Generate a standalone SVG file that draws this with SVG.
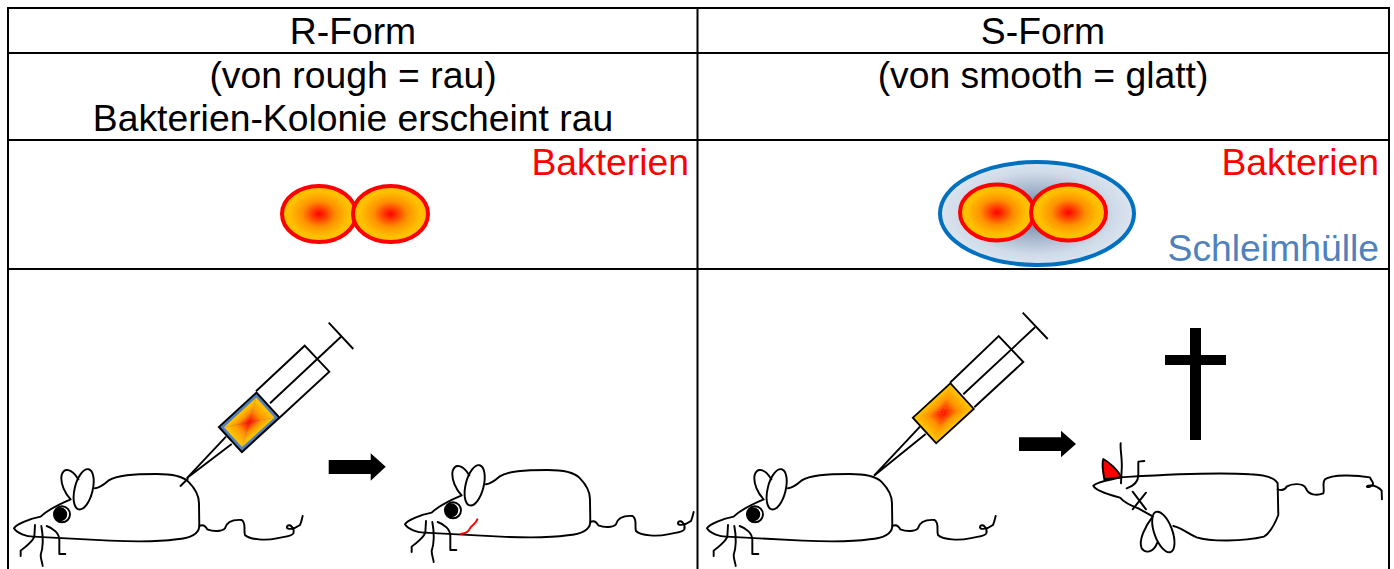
<svg xmlns="http://www.w3.org/2000/svg" width="1394" height="569" viewBox="0 0 1394 569">
<style>
text{font-family:"Liberation Sans",Arial,sans-serif;font-size:37.3px;fill:#000;text-anchor:middle}
.red{fill:#f00;text-anchor:end}
.blue{fill:#4f81bd;text-anchor:end}
.grid{stroke:#000;stroke-width:2;fill:none}
.m{fill:none;stroke:#000;stroke-width:5.800;stroke-linecap:round;stroke-linejoin:round}
.ln{fill:none;stroke:#000;stroke-width:1.9}
.bac{stroke:#f00;stroke-width:4;fill:url(#bg)}
.s0{stop-color:#f00}.s1{stop-color:#ff9000}.s2{stop-color:#ffc000}
</style>
<defs>
<radialGradient id="bg"><stop offset="0" class="s0"/><stop offset=".45" class="s1"/><stop offset=".8" class="s2"/></radialGradient>
<radialGradient id="slime"><stop offset="0" stop-color="#5f7797"/><stop offset=".5" stop-color="#a9b8cf"/><stop offset=".8" stop-color="#d0dbe9"/><stop offset="1" stop-color="#dbe4ef"/></radialGradient>
<linearGradient id="gT" x1="0" y1="1" x2="0" y2="0"><stop offset="0" class="s0"/><stop offset=".5" class="s1"/><stop offset=".9" class="s2"/></linearGradient>
<linearGradient id="gB" x1="0" y1="0" x2="0" y2="1"><stop offset="0" class="s0"/><stop offset=".5" class="s1"/><stop offset=".9" class="s2"/></linearGradient>
<linearGradient id="gL" x1="1" y1="0" x2="0" y2="0"><stop offset="0" class="s0"/><stop offset=".5" class="s1"/><stop offset=".9" class="s2"/></linearGradient>
<linearGradient id="gR" x1="0" y1="0" x2="1" y2="0"><stop offset="0" class="s0"/><stop offset=".5" class="s1"/><stop offset=".9" class="s2"/></linearGradient>
<g id="pair">
<ellipse class="bac" cx="-36" cy="0" rx="37" ry="28"/>
<ellipse class="bac" cx="35.500" cy="0" rx="37.500" ry="28"/>
</g>
<g id="mouse" class="m">
<path d="M100,350C80,350 50,340 42,325C50,312 90,296 122,290C140,272 165,258 212,238C195,220 180,190 185,165C192,142 215,145 235,178"/>
<ellipse cx="251" cy="208" rx="27" ry="62" transform="rotate(14 251 208)"/>
<path d="M285,205C300,203 310,195 325,182C350,165 400,162 470,162C520,162 550,170 565,185C585,205 597,225 597,250L598,320C595,345 570,355 530,358C480,365 400,365 330,362C250,358 170,353 100,350"/>
<path d="M598,318C610,312 618,320 622,328C640,335 665,335 675,325C680,305 695,298 725,300C740,310 730,330 735,345C750,360 800,362 830,355C850,350 875,350 880,340C885,325 870,310 862,318C855,330 880,330 900,315C905,305 906,295 908,288"/>
<circle cx="186" cy="283" r="24" fill="#fff"/>
<circle cx="181" cy="283" r="18" fill="#000"/>
<path d="M105,315L103,350C95,370 75,380 62,392L62,408M124,318C130,350 130,380 122,405C122,420 128,430 128,438M140,318C160,325 178,340 178,360L178,402L196,402"/>
</g>
<g id="rectGrad">
<polygon points="-22,-13.500 22,-13.500 0,0" fill="url(#gT)"/>
<polygon points="-22,13.500 22,13.500 0,0" fill="url(#gB)"/>
<polygon points="-22,-13.500 -22,13.500 0,0" fill="url(#gL)"/>
<polygon points="22,-13.500 22,13.500 0,0" fill="url(#gR)"/>
</g>
</defs>
<rect width="1394" height="569" fill="#fff"/>
<g id="table" class="grid">
<path d="M8,569V8H1389V569M8,53H1389M8,140H1389M8,269H1389M697.500,8V569"/>
</g>
<g id="header-r"><text x="353" y="44">R-Form</text></g>
<g id="header-s"><text x="1043" y="44">S-Form</text></g>
<g id="desc-r"><text x="353" y="88">(von rough = rau)</text><text x="353" y="131">Bakterien-Kolonie erscheint rau</text></g>
<g id="desc-s"><text x="1043" y="88">(von smooth = glatt)</text></g>
<g id="bacteria-r">
<text class="red" x="689" y="175">Bakterien</text>
<use href="#pair" x="355" y="214"/>
</g>
<g id="bacteria-s">
<text class="red" x="1379" y="175">Bakterien</text>
<text class="blue" x="1379" y="261">Schleimhülle</text>
<ellipse cx="1037" cy="213.500" rx="97" ry="51.500" fill="url(#slime)" stroke="#0070c0" stroke-width="4"/>
<use href="#pair" x="1033" y="212.500"/>
</g>
<g id="mouse-1" transform="translate(0 420) scale(.3333)"><use href="#mouse"/></g>
<g id="mouse-2" transform="translate(391 416) scale(.3333)"><use href="#mouse"/>
<path d="M209,354C227,352 232,347 237,337C242,327 252,327 259,310" fill="none" stroke="#f00" stroke-width="5.800" stroke-linecap="round"/></g>
<g id="mouse-3" transform="translate(693 420) scale(.3333)"><use href="#mouse"/></g>
<g id="mouse-dead" class="m" transform="translate(1010 420) scale(.3333)">
<path d="M283,178C278,150 276,125 280,117C295,125 325,150 333,172Z" fill="#f00"/>
<path d="M333,172C450,165 600,155 720,163C770,165 795,175 803,190L805,285C795,310 780,340 762,350C700,365 600,365 560,352C530,340 520,325 490,318"/>
<path d="M333,172C300,180 265,183 250,197C255,212 300,225 330,233C345,250 365,258 385,265L424,287"/>
<ellipse cx="460" cy="336" rx="27" ry="64" transform="rotate(-20 460 336)"/>
<path d="M428,290C405,320 385,360 395,385C405,400 430,400 442,368"/>
<path d="M803,208C815,212 825,210 830,200C845,190 880,188 888,205C895,225 920,228 940,220C945,205 935,190 945,178C965,162 1040,165 1080,172C1085,185 1095,190 1085,197C1075,205 1065,200 1075,197C1090,195 1105,200 1115,212L1116,238"/>
<path d="M332,70C330,90 338,120 335,150L333,190M350,205C365,200 385,190 385,165L385,125L403,123"/>
<path d="M368,215L408,268M408,218L368,268"/>
</g>
<g id="syringe-1">
<path class="ln" d="M256,391.300L304.700,345.700L329.300,371.700L280,417.300M270,403.300L341,336.700M328.700,322.700L353.300,349M226,436.700L186.700,478.300M231.700,444L186.700,478.300M180,486.500L188.300,478.300"/>
<g transform="translate(249.200 422.300) rotate(-42.500)">
<rect x="-25.500" y="-17" width="51" height="34" fill="#4f81bd" stroke="#000" stroke-width="2"/>
<use href="#rectGrad"/>
</g>
</g>
<g id="syringe-2">
<path class="ln" d="M950,382.700L998.700,336L1023.300,362L974.300,407.300M963.300,394.300L1035,327.300M1022.700,312.700L1047.700,339M920,426.700L874,475.700M925.700,434L874,475.700"/>
<g transform="translate(943.300 413.300) rotate(-42.500)">
<rect x="-25.500" y="-17.300" width="51" height="34.600" fill="#ffc000"/>
<g transform="scale(1.160 1.280)"><use href="#rectGrad"/></g>
<rect x="-25.500" y="-17.300" width="51" height="34.600" fill="none" stroke="#000" stroke-width="1.800"/>
</g>
</g>
<g id="cross" fill="#000"><rect x="1190" y="328" width="11" height="112"/><rect x="1165" y="355" width="61" height="10"/></g>
<g id="connectors" fill="#000">
<polygon points="328.700,460 370.700,460 370.700,453.300 385.700,466.700 370.700,480.700 370.700,474 328.700,474"/>
<polygon points="1019,437.300 1061,437.300 1061,430.700 1076,444 1061,457.300 1061,451 1019,451"/>
</g>
</svg>
